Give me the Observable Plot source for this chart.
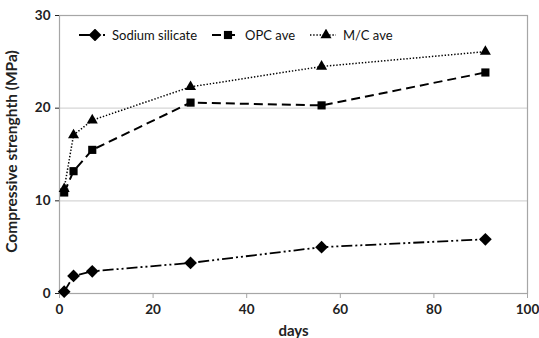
<!DOCTYPE html>
<html>
<head>
<meta charset="utf-8">
<script src="https://cdn.jsdelivr.net/npm/d3@7"></script>
<script src="https://cdn.jsdelivr.net/npm/@observablehq/plot@0.6"></script>
<style>
  html, body { margin: 0; padding: 0; background: #fff; }
  #wrap { position: relative; width: 539px; height: 338px; font-family: Lato, "Open Sans", sans-serif; }
  #legend { position: absolute; left: 78px; top: 27px; display: flex; align-items: center; font-size: 13px; color: #111; }
  #legend .item { display: flex; align-items: center; margin-right: 14px; }
  #legend svg { display: block; margin-right: 6px; }
</style>
</head>
<body>
<div id="wrap"><div id="legend"></div></div>
<script>
const days = [1, 3, 7, 28, 56, 91];
const sodiumSilicate = [0.2, 1.9, 2.4, 3.3, 5.0, 5.85];
const opcAve = [10.9, 13.2, 15.5, 20.6, 20.3, 23.85];
const mcAve = [11.3, 17.1, 18.7, 22.3, 24.5, 26.1];
const seriesNames = ["Sodium silicate", "OPC ave", "M/C ave"];
const xTicks = [0, 20, 40, 60, 80, 100];
const yTicks = [0, 10, 20, 30];

const rotSquare = {
  draw(context, size) {
    const h = Math.sqrt(size) * 0.72;
    context.moveTo(0, -h); context.lineTo(h, 0); context.lineTo(0, h); context.lineTo(-h, 0); context.closePath();
  }
};

const styles = [
  {dash: "11,3,2,3,2,3", symbol: rotSquare, r: 5, width: 1.8},
  {dash: "9,5", symbol: "square", r: 4.6, width: 2},
  {dash: "1.4,1.8", symbol: "triangle", r: 4.1, width: 1.5}
];
const values = [sodiumSilicate, opcAve, mcAve];
const data = seriesNames.map((name, i) => days.map((d, j) => ({name, day: d, value: values[i][j]})));

const marks = [
  Plot.ruleY(yTicks.filter(v => v > 0), {stroke: "#d6d6d6", strokeWidth: 1.2}),
  Plot.frame({stroke: "#a6a6a6", strokeWidth: 1.2}),
  Plot.axisX({ticks: xTicks, tickSize: 5, tickPadding: 6, stroke: "#a6a6a6", fontSize: 13.5, fontWeight: "bold", label: null, color: "#222"}),
  Plot.axisY({ticks: yTicks, tickSize: 4, tickPadding: 5, fontSize: 13.5, fontWeight: "bold", label: null, color: "#222"}),
];
data.forEach((rows, i) => {
  const s = styles[i];
  marks.push(Plot.line(rows, {x: "day", y: "value", stroke: "#000", strokeWidth: s.width, strokeDasharray: s.dash, strokeLinecap: "butt"}));
  marks.push(Plot.dot(rows, {x: "day", y: "value", symbol: () => s.symbol, r: s.r, fill: "#000", stroke: "none"}));
});

const chart = Plot.plot({
  width: 539,
  height: 338,
  marginLeft: 59,
  marginRight: 12,
  marginTop: 15,
  marginBottom: 45,
  style: {fontFamily: "Lato, 'Open Sans', sans-serif", background: "#fff"},
  x: {domain: [0, 100]},
  y: {domain: [0, 30]},
  symbol: {type: "identity"},
  marks: [
    ...marks,
    Plot.text(["days"], {frameAnchor: "bottom", dy: 42, fontSize: 15, fontWeight: "bold", fill: "#222"}),
    Plot.text(["Compressive strenghth (MPa)"], {frameAnchor: "left", textAnchor: "middle", dx: -47, dy: -3, rotate: -90, fontSize: 15.5, fontWeight: "bold", fill: "#222"})
  ]
});
document.getElementById("wrap").prepend(chart);

// legend
const legend = d3.select("#legend");
seriesNames.forEach((name, i) => {
  const s = styles[i];
  const item = legend.append("div").attr("class", "item");
  const svg = item.append("svg").attr("width", 28).attr("height", 12);
  svg.append("line").attr("x1", 1).attr("x2", 27).attr("y1", 6).attr("y2", 6)
    .attr("stroke", "#000").attr("stroke-width", s.width).attr("stroke-dasharray", s.dash);
  const sym = typeof s.symbol === "string" ? (s.symbol === "square" ? d3.symbolSquare : d3.symbolTriangle) : s.symbol;
  svg.append("path").attr("transform", "translate(17,6)")
    .attr("d", d3.symbol(sym, Math.PI * s.r * s.r)()).attr("fill", "#000");
  item.append("span").text(name);
});
</script>
</body>
</html>
